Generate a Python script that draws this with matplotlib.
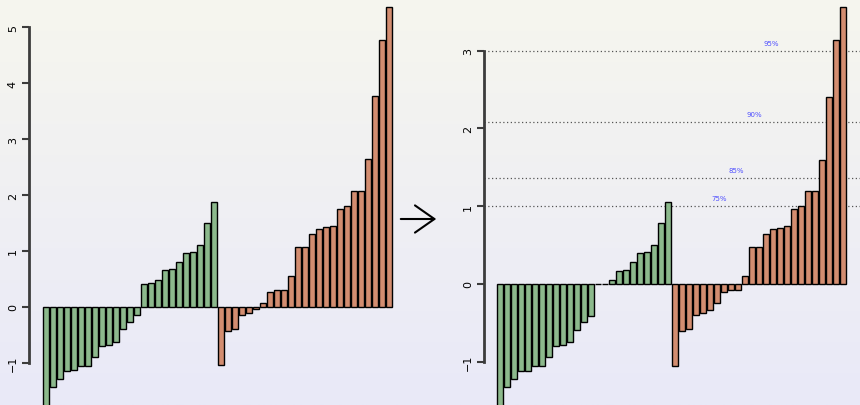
import numpy as np
import matplotlib
matplotlib.use("Agg")
import matplotlib.pyplot as plt

# raw values (left) and transformed values (right)
green_raw = [-1.9, -1.42, -1.28, -1.14, -1.13, -1.06, -1.06, -0.89, -0.70, -0.68, -0.63, -0.40, -0.26, -0.15,
             0.405, 0.42, 0.49, 0.655, 0.67, 0.80, 0.96, 0.98, 1.11, 1.50, 1.88]
salmon_raw = [-1.04, -0.43, -0.39, -0.14, -0.10, -0.04, 0.07, 0.27, 0.30, 0.31, 0.55, 1.07, 1.07, 1.30,
              1.40, 1.42, 1.45, 1.75, 1.81, 2.07, 2.08, 2.64, 3.76, 4.77, 5.36]
green_adj = [-1.7, -1.32, -1.22, -1.12, -1.12, -1.06, -1.06, -0.94, -0.80, -0.79, -0.75, -0.59, -0.49, -0.41,
             0.0, 0.0, 0.056, 0.17, 0.185, 0.28, 0.395, 0.41, 0.50, 0.78, 1.056]
salmon_adj = [-1.05, -0.61, -0.58, -0.40, -0.37, -0.33, -0.25, -0.107, -0.08, -0.077, 0.10, 0.47, 0.47, 0.64,
              0.71, 0.725, 0.747, 0.96, 1.00, 1.19, 1.20, 1.60, 2.41, 3.14, 3.56]
pct_labels = ["75%", "85%", "90%", "95%"]
pct_values = [1.004, 1.36, 2.086, 2.996]
pct_label_x = [31.3, 33.7, 36.3, 38.7]

GREEN = "#8cb98c"
SALMON = "#d38d70"
W, H = 860, 406

fig = plt.figure(figsize=(W / 100, H / 100), dpi=100)

# background gradient
bg = fig.add_axes([0, 0, 1, 1])
top = np.array([246, 246, 238]) / 255
bot = np.array([233, 233, 248]) / 255
t = np.linspace(0, 1, 256)[:, None]
grad = top * (1 - t) + bot * t
bg.imshow(grad[:, None, :].repeat(2, axis=1), aspect="auto", extent=[0, 1, 0, 1])
bg.set_xlim(0, 1)
bg.set_ylim(0, 1)
bg.axis("off")


def panel(x0, x1, first_center, zero_y, ppu, vals_g, vals_s, ymin_tick, ymax_tick):
    ax = fig.add_axes([x0 / W, 0, (x1 - x0) / W, 1])
    ax.patch.set_alpha(0)
    xs = np.arange(len(vals_g) + len(vals_s))
    colors = [GREEN] * len(vals_g) + [SALMON] * len(vals_s)
    ax.bar(xs, vals_g + vals_s, width=0.86, color=colors, edgecolor="black", linewidth=1.0)
    ax.set_xlim((x0 - first_center) / 7, (x1 - first_center) / 7)
    ax.set_ylim(-(H - zero_y) / ppu, zero_y / ppu)
    for s in ["top", "right", "bottom"]:
        ax.spines[s].set_visible(False)
    ax.spines["left"].set_bounds(ymin_tick, ymax_tick)
    ax.spines["left"].set_color("#3c3c3c")
    ax.spines["left"].set_linewidth(2)
    ax.set_xticks([])
    ticks = list(range(ymin_tick, ymax_tick + 1))
    ax.set_yticks(ticks)
    ax.set_yticklabels([str(v).replace("-", "\u2212") for v in ticks], rotation=90, va="center", fontsize=8)
    ax.tick_params(axis="y", length=5, width=1.5, color="#3c3c3c", pad=3)
    return ax


axl = panel(29, 396, 46, 308, 56, green_raw, salmon_raw, -1, 5)
axr = panel(484, 860, 500, 285, 77.8, green_adj, salmon_adj, -1, 3)

for v, lab, lx in zip(pct_values, pct_labels, pct_label_x):
    axr.axhline(v, color="#555555", linestyle=(0, (1, 2)), linewidth=0.9, zorder=0)
    axr.text(lx, v + 0.103, lab, color="#5050ff", fontsize=5, ha="center", va="center")

# arrow between the panels
bg.annotate("", xy=(439 / W, 1 - 220 / H), xytext=(398 / W, 1 - 220 / H),
            xycoords="axes fraction", textcoords="axes fraction",
            arrowprops=dict(arrowstyle="->,head_length=0.5,head_width=0.35", lw=1.5,
                            color="black", mutation_scale=28))

fig.savefig("out.png", dpi=100)
